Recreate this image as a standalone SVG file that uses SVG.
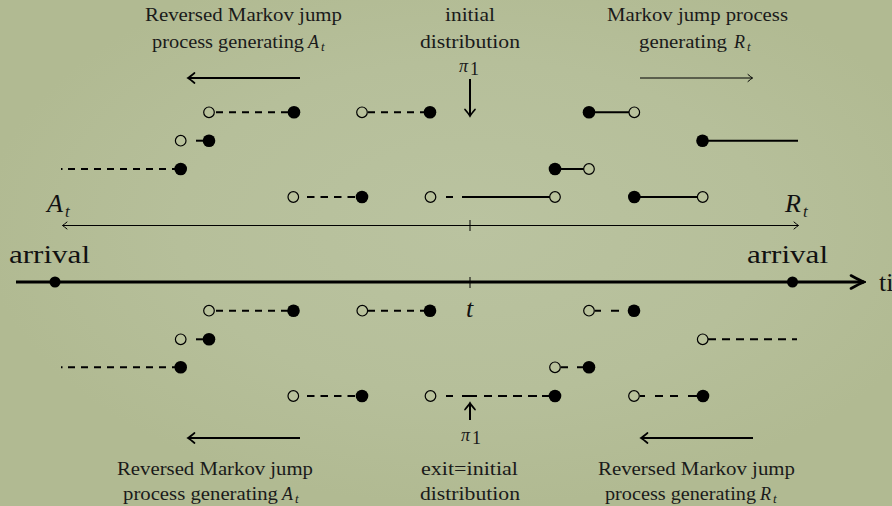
<svg xmlns="http://www.w3.org/2000/svg" width="892" height="506" viewBox="0 0 892 506">
<style>
.lbl{font-family:"Liberation Serif",serif;font-size:18px;fill:#1a1a1a}
.big{font-family:"Liberation Serif",serif;font-size:26px;fill:#111}
.it{font-style:italic}
.sub{font-family:"Liberation Serif",serif;font-style:italic;fill:#1a1a1a}
.seg{stroke:#000;stroke-width:2;fill:none}
.dash{stroke:#000;stroke-width:2;fill:none;stroke-dasharray:7 6}
.open{fill:#b9c29c;stroke:#000;stroke-width:1.2}
.fill{fill:#000}
</style>
<defs>
<radialGradient id="bg" cx="0.53" cy="0.45" r="0.55">
<stop offset="0" stop-color="#bac3a0"/>
<stop offset="0.6" stop-color="#b6bf9a"/>
<stop offset="1" stop-color="#b1ba92"/>
</radialGradient>
<marker id="ah" viewBox="-8 -7 10 14" refX="0" refY="0" markerWidth="10" markerHeight="14" markerUnits="userSpaceOnUse" orient="auto-start-reverse">
<path d="M-6.5,-5 Q-2,-1.2 0,0 Q-2,1.2 -6.5,5" fill="none" stroke="#000" stroke-width="1.7" stroke-linecap="round"/>
</marker>
<marker id="ahs" viewBox="-6 -5 7 10" refX="0" refY="0" markerWidth="7" markerHeight="10" markerUnits="userSpaceOnUse" orient="auto-start-reverse">
<path d="M-4.5,-3.5 Q-1.3,-0.8 0,0 Q-1.3,0.8 -4.5,3.5" fill="none" stroke="#000" stroke-width="1" stroke-linecap="round"/>
</marker>
<marker id="ahb" viewBox="-16 -9 18 18" refX="0" refY="0" markerWidth="18" markerHeight="18" markerUnits="userSpaceOnUse" orient="auto">
<path d="M-13,-6.5 Q-4,-1.5 0,0 Q-4,1.5 -13,6.5" fill="none" stroke="#000" stroke-width="2.6" stroke-linecap="round"/>
</marker>
</defs>
<rect width="892" height="506" fill="url(#bg)"/>

<g id="labels-top">
<text class="lbl" x="145" y="20.5" textLength="197" lengthAdjust="spacingAndGlyphs">Reversed Markov jump</text>
<text class="lbl" x="152" y="48" textLength="152" lengthAdjust="spacingAndGlyphs">process generating</text>
<text class="lbl it" x="308" y="48" font-size="19">A</text><text class="sub" x="321" y="51" font-size="13">t</text>
<text class="lbl" x="445" y="20.5" textLength="50" lengthAdjust="spacingAndGlyphs">initial</text>
<text class="lbl" x="420" y="48" textLength="100" lengthAdjust="spacingAndGlyphs">distribution</text>
<text class="lbl" x="607" y="20.5" textLength="181" lengthAdjust="spacingAndGlyphs">Markov jump process</text>
<text class="lbl" x="639" y="48" textLength="88" lengthAdjust="spacingAndGlyphs">generating</text>
<text class="lbl it" x="734" y="48" font-size="19">R</text><text class="sub" x="747" y="51" font-size="13">t</text>
</g>

<g id="labels-bottom">
<text class="lbl" x="117" y="475" textLength="196" lengthAdjust="spacingAndGlyphs">Reversed Markov jump</text>
<text class="lbl" x="123" y="500" textLength="155" lengthAdjust="spacingAndGlyphs">process generating</text>
<text class="lbl it" x="282" y="500" font-size="19">A</text><text class="sub" x="295" y="503" font-size="13">t</text>
<text class="lbl" x="421" y="475" textLength="97" lengthAdjust="spacingAndGlyphs">exit=initial</text>
<text class="lbl" x="420" y="500" textLength="100" lengthAdjust="spacingAndGlyphs">distribution</text>
<text class="lbl" x="598" y="475" textLength="197" lengthAdjust="spacingAndGlyphs">Reversed Markov jump</text>
<text class="lbl" x="605" y="500" textLength="151" lengthAdjust="spacingAndGlyphs">process generating</text>
<text class="lbl it" x="760" y="500" font-size="19">R</text><text class="sub" x="773" y="503" font-size="13">t</text>
</g>

<g id="pi-labels">
<text class="sub" x="459" y="72" font-size="18">π</text><text class="lbl" x="470" y="75" font-size="11">1</text>
<text class="sub" x="461" y="441" font-size="18">π</text><text class="lbl" x="472" y="444" font-size="11">1</text>
</g>

<g id="axis-labels">
<text class="big" x="9" y="263" textLength="81" lengthAdjust="spacingAndGlyphs">arrival</text>
<text class="big" x="747" y="263" textLength="81" lengthAdjust="spacingAndGlyphs">arrival</text>
<text class="big" x="879" y="291">time</text>
<text class="big it" x="47" y="212" font-size="27">A</text><text class="sub" x="65" y="217" font-size="17">t</text>
<text class="big it" x="785" y="212" font-size="27">R</text><text class="sub" x="803" y="217" font-size="17">t</text>
<text class="big it" x="466" y="317" font-size="24">t</text>
</g>

<g id="connectors">
<path class="seg" d="M300,78 H188" marker-end="url(#ah)"/>
<path stroke="#000" stroke-width="1" fill="none" d="M640,78 H752.5" marker-end="url(#ahs)"/>
<path class="seg" d="M300,438 H188" marker-end="url(#ah)"/>
<path class="seg" d="M753,438 H641" marker-end="url(#ah)"/>
<path class="seg" d="M470,79 V116" marker-end="url(#ah)"/>
<path class="seg" d="M470,420 V403" marker-end="url(#ah)"/>
<path stroke="#000" stroke-width="1" fill="none" d="M62.5,225.5 H798.5" marker-start="url(#ahs)" marker-end="url(#ahs)"/>
<path stroke="#000" stroke-width="1" d="M470,220 V231"/>
<path stroke="#000" stroke-width="3" fill="none" d="M16,282 H864" marker-end="url(#ahb)"/>
<path stroke="#000" stroke-width="1" d="M470,277 V288"/>

<path class="dash" d="M216,112.3 H288"/>
<path class="dash" d="M368,112.3 H424"/>
<path class="seg" d="M590,112.3 H629"/>
<path class="seg" d="M196,140.7 H209"/>
<path class="seg" d="M702,140.7 H798"/>
<path class="seg" d="M61,169 H62.5"/>
<path class="dash" d="M68,169 H175"/>
<path class="seg" d="M555,169 H584"/>
<path class="dash" style="stroke-dasharray:7.5 6" d="M307,197 H356"/>
<path class="seg" d="M446,197 H453 M462,197 H550"/>
<path class="seg" d="M634,197 H697.5"/>

<path class="dash" d="M216,310.7 H288"/>
<path class="dash" d="M368,310.7 H424"/>
<path class="seg" d="M595,310.7 H601 M611,310.7 H619"/>
<path class="seg" d="M196,339.3 H209"/>
<path class="dash" style="stroke-dasharray:8 6" d="M708,339.3 H797"/>
<path class="seg" d="M61,367.3 H62.5"/>
<path class="dash" d="M68,367.3 H175"/>
<path class="seg" d="M561,367.3 H568 M577,367.3 H589"/>
<path class="dash" style="stroke-dasharray:7.5 6" d="M307,396 H356"/>
<path class="seg" d="M446,396 H453 M462,396 H477 M484,396 H492 M498,396 H507 M513,396 H522 M528,396 H537 M542,396 H550"/>
<path class="seg" d="M640,396 H645 M655,396 H663 M670,396 H678 M688,396 H697"/>
</g>

<g id="points-top">
<circle class="open" cx="209" cy="112.3" r="5.3"/><circle class="fill" cx="294" cy="112.3" r="6.3"/>
<circle class="open" cx="362" cy="112.3" r="5.3"/><circle class="fill" cx="430" cy="112.3" r="6.3"/>
<circle class="fill" cx="589" cy="112.3" r="6.3"/><circle class="open" cx="634.3" cy="112.3" r="5.3"/>
<circle class="open" cx="180.7" cy="140.7" r="5.3"/><circle class="fill" cx="209" cy="140.7" r="6.3"/>
<circle class="fill" cx="702.5" cy="140.7" r="6.3"/>
<circle class="fill" cx="180.7" cy="169" r="6.3"/>
<circle class="fill" cx="555" cy="169" r="6.3"/><circle class="open" cx="589" cy="169" r="5.3"/>
<circle class="open" cx="293.3" cy="197" r="5.3"/><circle class="fill" cx="362" cy="197" r="6.3"/>
<circle class="open" cx="430.5" cy="197" r="5.3"/><circle class="open" cx="555" cy="197" r="5.3"/>
<circle class="fill" cx="634.3" cy="197" r="6.3"/><circle class="open" cx="702.7" cy="197" r="5.3"/>
</g>

<g id="points-axis">
<circle class="fill" cx="55" cy="282" r="5.5"/>
<circle class="fill" cx="792.5" cy="282" r="5.5"/>
</g>

<g id="points-bottom">
<circle class="open" cx="209" cy="310.7" r="5.3"/><circle class="fill" cx="293.5" cy="310.7" r="6.3"/>
<circle class="open" cx="362.3" cy="310.7" r="5.3"/><circle class="fill" cx="430" cy="310.7" r="6.3"/>
<circle class="open" cx="589" cy="310.7" r="5.3"/><circle class="fill" cx="634" cy="310.7" r="6.3"/>
<circle class="open" cx="180.7" cy="339.3" r="5.3"/><circle class="fill" cx="209" cy="339.3" r="6.3"/>
<circle class="open" cx="702.7" cy="339.3" r="5.3"/>
<circle class="fill" cx="180.7" cy="367.3" r="6.3"/>
<circle class="open" cx="555" cy="367.3" r="5.3"/><circle class="fill" cx="589" cy="367.3" r="6.3"/>
<circle class="open" cx="293.3" cy="396" r="5.3"/><circle class="fill" cx="362" cy="396" r="6.3"/>
<circle class="open" cx="430.5" cy="396" r="5.3"/><circle class="fill" cx="555" cy="396" r="6.3"/>
<circle class="open" cx="634" cy="396" r="5.3"/><circle class="fill" cx="703" cy="396" r="6.3"/>
</g>
</svg>
